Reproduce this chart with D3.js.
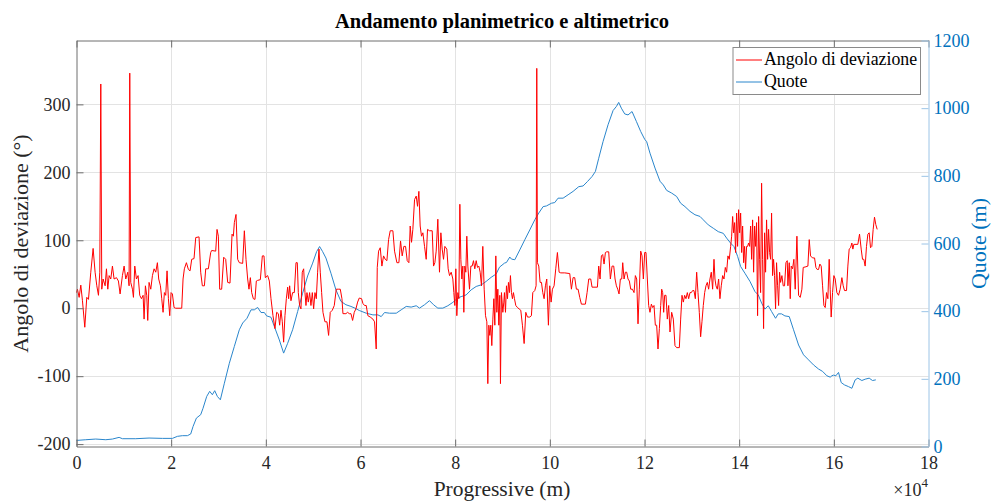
<!DOCTYPE html>
<html>
<head>
<meta charset="utf-8">
<script src="https://cdn.jsdelivr.net/npm/d3@7"></script>
<style>
body { margin: 0; background: #fff; }
</style>
</head>
<body>
<svg id="chart" width="993" height="502"></svg>
<script>
// progressiva (m), angolo di deviazione (°)
var angolo = [
	[0,23],[200,28],[560,16],[910,34],[1260,11],[1750,-28],[2170,16],[2530,13],[3020,53],[3510,88],
	[3930,53],[4290,33],[4640,19],[4920,53],[5130,330],[5340,28],[5620,43],[6050,33],[6330,58],[6610,28],
	[6890,48],[7240,43],[7590,62],[7940,43],[8440,45],[8860,40],[9210,21],[9700,48],[10060,62],[10410,43],
	[10830,53],[11110,33],[11250,346],[11460,38],[11820,28],[12030,16],[12310,62],[12660,43],[13010,48],[13360,19],
	[13720,14],[14070,19],[14280,-16],[14560,33],[14840,19],[15050,-18],[15330,38],[15690,28],[16040,48],[16390,58],
	[16740,53],[17090,67],[17370,43],[17730,33],[18010,14],[18290,-6],[18570,23],[18850,19],[19130,55],[19420,14],
	[19700,-11],[19980,23],[20260,21],[20610,1],[20960,0],[22230,0],[22510,43],[22790,58],[23220,67],[23640,57],
	[23990,55],[24340,72],[24830,73],[25190,104],[25890,105],[26240,53],[26590,33],[27020,33],[27300,58],[27860,58],
	[28350,82],[28560,85],[29410,84],[29690,116],[29970,106],[30250,28],
	[30670,28],[31100,75],[31520,72],[31940,38],[32430,37],[32860,109],[33140,106],[33350,126],[33700,138],[34050,72],
	[34400,67],[35110,66],[35460,114],[35810,72],[36160,43],[36440,28],[36730,45],[37010,23],[37360,14],[37710,13],
	[37990,40],[38270,41],[38840,42],[39260,77],[39610,77],[39890,45],[40390,48],[40740,40],[41090,14],[41510,-11],
	[41930,-30],[42280,-6],[42640,-8],[42920,-25],[43200,-3],[43480,-20],[43760,-50],[44040,-11],[44330,14],[44610,31],
	[44820,14],[45030,33],[45310,11],[45660,23],[46020,23],[46370,67],[46650,67],[46860,23],[47140,4],[47420,-1],
	[47700,53],[47990,58],[48270,23],[48480,4],[48690,23],[48970,9],[49250,23],[49530,4],[49820,23],[50100,-1],
	[50380,23],[50660,14],[50940,53],[51220,87],[51500,53],[51790,23],[52070,-6],[52490,-20],[52910,-20],[53260,-40],
	[53610,-6],[54040,-3],[54460,4],[54880,28],[55300,28],[55730,28],[56080,14],[56290,-8],[56920,-8],[57270,-6],
	[57630,-8],[57980,-8],[58330,-18],[58680,-6],[59030,-1],[59390,9],[59740,15],[60230,14],
	[60510,7],[60860,4],[61210,4],[61560,-11],[62060,-13],[62620,-16],[62970,-20],[63320,-60],[63540,60],[63820,84],
	[64170,89],[64520,62],[64870,77],[65220,72],[65580,70],[65930,101],[66280,114],[66840,114],[67190,84],[67690,67],
	[68110,67],[68460,99],[68810,77],[69160,91],[69520,91],[69870,70],[70220,67],[70500,121],[70780,97],[71060,116],
	[71420,160],[71770,165],[72050,150],[72330,172],[72610,121],[72890,106],[73180,111],[73530,91],[73880,72],[74160,116],
	[74580,114],[75150,114],[75430,62],[75710,67],[75990,84],[76340,131],[76690,53],[76980,111],[77260,87],[77540,72],
	[77820,91],[78240,87],[78520,58],[78810,48],[79160,53],[79510,43],[79720,23],[79930,4],[80140,58],[80350,-11],
	[80570,23],[80780,14],[80990,153],[81200,72],[81410,43],[81620,62],[81830,-6],[82040,62],[82250,53],[82460,106],
	[82680,62],[83030,28],[83310,62],[83590,62],[83870,70],[84150,58],[84440,70],[84720,60],[85000,62],[85280,53],
	[85560,33],[85840,91],[86130,28],[86410,-11],[86690,-20],[86900,-111],[87110,-25],[87320,-40],[87530,-25],[87740,-55],
	[87960,-16],[88170,14],[88380,-25],[88590,77],[88800,-6],[89010,28],[89220,-25],[89430,19],[89570,-111],[89780,23],
	[90070,-6],[90280,9],
	[90410,23],[90630,-6],[90840,33],[91050,14],[91260,38],[91470,23],[91680,48],[91890,23],[92100,14],[92310,23],
	[92530,14],[92810,4],[93160,1],[93510,-1],[93860,-3],[94210,-25],[94570,-52],[94920,-6],[95270,-13],[95760,-13],
	[96110,-11],[96400,23],[96820,26],[97100,33],[97240,353],[97380,67],[97660,62],[97940,38],[98230,38],[98510,23],
	[98790,14],[99070,33],[99350,43],[99700,-25],[99980,33],[100270,9],[100550,28],[100900,33],[101250,58],[101600,82],
	[101960,53],[102310,52],[103150,52],[104210,51],[104560,28],[104910,45],[105260,45],[105610,28],[105970,28],[106320,16],
	[106670,6],[107510,6],[107870,23],[108220,43],[108640,43],[108920,31],[110050,31],[110330,62],[110610,43],[110890,77],
	[111170,79],[111460,65],[111740,82],[112020,83],[112440,83],[112790,43],[113150,62],[113500,62],[113780,43],[114060,33],
	[114340,28],[114620,21],[114900,43],[115190,43],[115400,67],[115680,43],[115960,53],[116240,53],[116520,43],[116800,40],
	[117090,28],[117440,28],[117790,23],[118070,48],[118350,43],[118630,-23],[118910,28],[119200,84],[119480,77],[119760,43],
	[120040,82],
	[120320,82],[120600,43],[120880,4],[121160,-6],[121450,6],[121730,1],[122010,4],[122290,-25],[122570,-25],[122850,-60],
	[123140,-30],[123420,4],[123630,28],[123840,23],[124050,-6],[124260,19],[124540,19],[124820,-16],[125110,4],[125390,-35],
	[125740,-6],[126090,-16],[126440,-55],[126790,-58],[127360,-58],[127640,-16],[127920,19],[128200,9],[128480,19],[128760,14],
	[129050,23],[129330,14],[129610,23],[129890,23],[130170,26],[130450,26],[130740,14],[131020,53],[131300,23],[131580,-6],
	[131860,-42],[132140,-20],[132420,4],[132710,23],[132990,33],[133270,38],[133550,28],[133830,43],[134110,53],[134390,28],
	[134680,72],[134890,43],[135100,33],[135380,28],[135660,43],[135940,14],[136220,33],[136510,48],[136790,43],[137070,60],
	[137350,53],[137630,77],[137910,72],[138200,91],[138410,106],[138620,135],[138830,111],[139040,126],[139250,82],[139460,140],
	[139670,91],[139880,145],[140100,111],[140310,140],[140520,82],[140730,121],[140940,67],[141150,91],[141360,58],[141570,91],
	[141780,91],[141990,96],[142210,91],[142420,121],[142630,72],[142840,130],[143050,53],[143260,121],[143470,91],[143680,126],
	[143890,-11],[144110,135],[144320,72],[144530,23],[144740,184],[144950,72],[145160,-30],[145370,111],[145580,53],[145790,130],
	[146010,72],[146220,116],[146430,82],[146640,72],[146850,140],[147060,48],[147270,72],[147480,48],[147690,-1],[147900,67],
	[148120,33],[148330,4],[148540,53],[148750,38],[149030,48],[149310,33],[149590,33],[149880,67],[150160,70],
	[150300,33],[150580,67],[150790,14],[151000,62],[151280,58],[151560,72],[151840,28],[152200,106],[152550,19],[152900,16],
	[153250,28],[153530,60],[154100,61],[154520,62],[154800,101],[155080,77],[155500,74],[155930,74],[156210,60],[156490,57],
	[156770,57],[157050,65],[157330,62],[157620,33],[157900,4],[158180,1],[158460,23],[158740,14],[159020,72],[159230,28],
	[159440,-13],[159730,23],[160010,48],[160290,43],[160640,23],[160990,19],[161340,28],[161700,45],[161980,33],[162260,26],
	[162680,26],[162960,62],[163240,87],[163530,89],[163810,96],[164020,87],[164230,94],[165070,94],[165430,109],[165780,87],
	[166060,72],[166340,72],[166620,62],[166900,91],[167190,109],[167470,111],[167750,89],[168030,91],[168310,116],[168590,134],
	[168870,123],[169160,116]
];

// progressiva (m), quota (m)
var quote = [
	[0,18],[1960,20],[4070,22],[6190,20],[7590,22],[9000,27],[9700,23],[12520,23],[15330,25],[18150,24],
	[20260,24],[21320,30],[22370,32],[23430,32],[24130,37],[24620,59],[25330,84],[26240,94],[26730,113],[27510,148],
	[28140,163],[28700,153],[29200,165],[29760,148],[30390,138],[31240,187],[32290,246],[33350,296],[34400,345],[35110,365],
	[36020,379],[36870,404],[37570,404],[38270,411],[38980,396],[39680,396],[40170,386],[41090,382],[41790,355],[42850,315],
	[43760,276],[44610,305],[45660,345],[46720,399],[47770,453],[48830,504],[49890,542],[50730,576],[51360,591],[52000,576],
	[52700,557],[53760,512],[54810,463],[55870,429],[56920,419],[57980,414],[58820,409],[59740,402],[61210,394],[62620,389],
	[63680,389],[64380,384],[65080,396],[66140,394],[67550,394],[68600,404],[69660,414],[70710,412],[71770,416],[72470,409],
	[73530,419],[74580,431],[75430,419],[76340,409],[77400,409],[78450,416],[79510,426],[80570,439],[81270,443],[82320,448],
	[83380,463],[84440,473],[85560,478],[86550,488],[87600,500],[88660,510],[89360,530],[90420,542],[90840,544],[91540,560],
	[91890,554],[92600,552],[93650,581],[94710,611],[95760,640],[96820,670],[97660,690],[98580,709],[99280,711],[100340,719],
	[101040,721],[101740,734],[102800,734],[103860,744],[104910,754],[106110,768],[107020,770],[107940,783],[108920,798],[109630,813],
	[110330,852],[111240,901],[112300,951],[113360,993],[114060,1005],[114550,1017],[115110,1000],[115820,983],[116520,980],[117370,990],
	[118280,961],[119200,931],[120040,908],[120460,901],[121160,867],[122220,823],[123280,784],[123980,773],[124680,757],[125740,749],
	[126790,739],[127640,719],[128550,709],[129610,695],[130660,685],[131720,680],[132420,670],[133480,655],[134540,645],[135590,635],
	[136650,630],[137350,616],[138200,601],[138900,591],[139670,562],[140310,532],[141220,512],[142280,488],[143330,458],[144040,448],
	[144740,424],[145440,406],[146150,416],[146850,399],[147690,379],[148260,392],[148960,392],[149660,386],[150580,384],[151490,345],
	[152550,300],[153600,271],[154660,256],[155720,241],[156770,229],[157620,222],[158530,209],[159230,205],[159590,209],[159940,211],
	[160430,209],[160990,219],[161560,189],[162260,182],[163100,177],[163810,172],[164510,197],[165070,202],[165920,195],[166620,199],
	[167470,202],[168170,195],[168870,197]
];

var xTicks = [0, 20000, 40000, 60000, 80000, 100000, 120000, 140000, 160000, 180000];
var leftTicks = [-200, -100, 0, 100, 200, 300];
var rightTicks = [0, 200, 400, 600, 800, 1000, 1200];
var legendLabels = ['Angolo di deviazione', 'Quote'];

var colRed = '#ff0000';
var colBlue = '#2a86cc';
var fontFam = '"Liberation Serif", "Times New Roman", serif';

var svg = d3.select('#chart');
var box = {left: 76.5, right: 928.5, top: 40.5, bottom: 446.5};

var x = d3.scaleLinear().domain([0, 180000]).range([box.left, box.right]);
var yL = d3.scaleLinear().domain([-203.5, 394]).range([box.bottom, box.top]);
var yR = d3.scaleLinear().domain([0, 1200]).range([box.bottom, box.top]);

svg.append('rect').attr('width', 993).attr('height', 502).attr('fill', '#fff');

// griglia
var grid = svg.append('g').attr('stroke', '#e3e3e3').attr('stroke-width', 1);
grid.selectAll('line.gx')
	.data(xTicks.slice(1, -1))
	.enter().append('line')
	.attr('x1', function (d) { return Math.round(x(d)) + 0.5; })
	.attr('x2', function (d) { return Math.round(x(d)) + 0.5; })
	.attr('y1', box.top).attr('y2', box.bottom);
grid.selectAll('line.gy')
	.data(leftTicks)
	.enter().append('line')
	.attr('x1', box.left).attr('x2', box.right)
	.attr('y1', function (d) { return Math.round(yL(d)) + 0.5; })
	.attr('y2', function (d) { return Math.round(yL(d)) + 0.5; });

// linee dati
var lineL = d3.line()
	.x(function (d) { return x(d[0]); })
	.y(function (d) { return yL(d[1]); });
var lineR = d3.line()
	.x(function (d) { return x(d[0]); })
	.y(function (d) { return yR(d[1]); });

svg.append('path').datum(quote)
	.attr('d', lineR)
	.attr('fill', 'none')
	.attr('stroke', colBlue)
	.attr('stroke-width', 1);

svg.append('path').datum(angolo)
	.attr('d', lineL)
	.attr('fill', 'none')
	.attr('stroke', colRed)
	.attr('stroke-width', 1);

// assi
function plain(d) { return String(d); }

function styleAxis(g, lineCol, textCol) {
	g.attr('font-family', fontFam).attr('font-size', 18);
	g.select('.domain').attr('stroke', lineCol);
	g.selectAll('.tick line').attr('stroke', lineCol);
	g.selectAll('.tick text')
		.attr('fill', textCol)
		.attr('font-family', fontFam)
		.attr('font-size', 18);
}

var axB = svg.append('g')
	.attr('transform', 'translate(0,' + box.bottom + ')')
	.call(d3.axisBottom(x).tickValues(xTicks).tickSizeInner(-7).tickSizeOuter(0).tickPadding(10)
		.tickFormat(function (d) { return String(d / 10000); }));
styleAxis(axB, '#6e6e6e', '#262626');

var axT = svg.append('g')
	.attr('transform', 'translate(0,' + box.top + ')')
	.call(d3.axisTop(x).tickValues(xTicks).tickSizeInner(-7).tickSizeOuter(0).tickFormat(''));
styleAxis(axT, '#6e6e6e', '#262626');

var axL = svg.append('g')
	.attr('transform', 'translate(' + box.left + ',0)')
	.call(d3.axisLeft(yL).tickValues(leftTicks).tickSizeInner(-7).tickSizeOuter(0).tickPadding(6)
		.tickFormat(plain));
styleAxis(axL, '#6e6e6e', '#262626');

var axR = svg.append('g')
	.attr('transform', 'translate(' + box.right + ',0)')
	.call(d3.axisRight(yR).tickValues(rightTicks).tickSizeInner(-7).tickSizeOuter(0).tickPadding(5)
		.tickFormat(plain));
styleAxis(axR, '#9cc4e6', '#0072bd');

// titolo ed etichette
svg.append('text')
	.attr('x', 502).attr('y', 28)
	.attr('text-anchor', 'middle')
	.attr('font-family', fontFam)
	.attr('font-size', 20.5)
	.attr('font-weight', 'bold')
	.attr('fill', '#000')
	.text('Andamento planimetrico e altimetrico');

svg.append('text')
	.attr('x', 502).attr('y', 496)
	.attr('text-anchor', 'middle')
	.attr('font-family', fontFam)
	.attr('font-size', 21.5)
	.attr('fill', '#262626')
	.text('Progressive (m)');

svg.append('text')
	.attr('transform', 'translate(28,' + ((box.top + box.bottom) / 2) + ') rotate(-90)')
	.attr('text-anchor', 'middle')
	.attr('font-family', fontFam)
	.attr('font-size', 22)
	.attr('fill', '#262626')
	.text('Angolo di deviazione (°)');

svg.append('text')
	.attr('transform', 'translate(986,' + ((box.top + box.bottom) / 2) + ') rotate(-90)')
	.attr('text-anchor', 'middle')
	.attr('font-family', fontFam)
	.attr('font-size', 22)
	.attr('fill', '#0072bd')
	.text('Quote (m)');

// esponente asse x
var expo = svg.append('text')
	.attr('x', 928).attr('y', 496)
	.attr('text-anchor', 'end')
	.attr('font-family', fontFam)
	.attr('font-size', 18)
	.attr('fill', '#262626');
expo.append('tspan').text('\u00d710');
expo.append('tspan').attr('dy', -9).attr('font-size', 13).text('4');

// legenda
var leg = svg.append('g').attr('transform', 'translate(733,47.5)');
leg.append('rect')
	.attr('width', 187.5).attr('height', 47)
	.attr('fill', '#fff')
	.attr('stroke', '#8a8a8a')
	.attr('stroke-width', 1);
var legCols = [colRed, colBlue];
var items = leg.selectAll('g.item')
	.data(legendLabels)
	.enter().append('g')
	.attr('transform', function (d, i) { return 'translate(0,' + (12.5 + i * 22) + ')'; });
items.append('line')
	.attr('x1', 3).attr('x2', 29)
	.attr('stroke', function (d, i) { return legCols[i]; })
	.attr('stroke-width', 1);
items.append('text')
	.attr('x', 31).attr('y', 4)
	.attr('dy', 0.5)
	.attr('font-family', fontFam)
	.attr('font-size', 17.8)
	.attr('fill', '#000')
	.text(function (d) { return d; });
</script>
</body>
</html>
